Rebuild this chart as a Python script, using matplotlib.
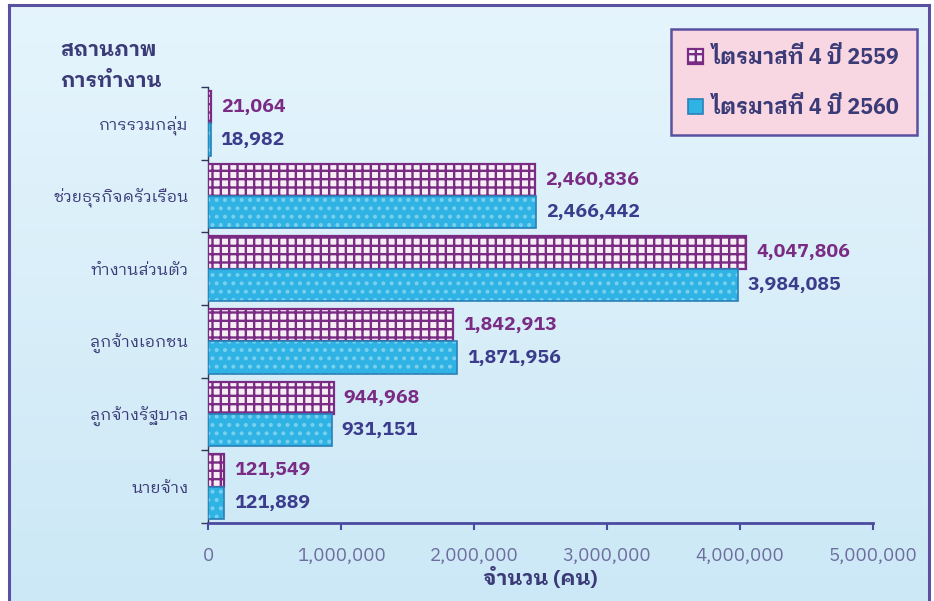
import matplotlib
matplotlib.use("Agg")
import matplotlib.pyplot as plt
import numpy as np
from matplotlib.patches import Rectangle, Patch
from matplotlib.ticker import FuncFormatter

# ---------------- data ----------------
categories = ["นายจ้าง", "ลูกจ้างรัฐบาล", "ลูกจ้างเอกชน", "ทำงานส่วนตัว",
              "ช่วยธุรกิจครัวเรือน", "การรวมกลุ่ม"]
values_2559 = [121549, 944968, 1842913, 4047806, 2460836, 21064]
values_2560 = [121889, 931151, 1871956, 3984085, 2466442, 18982]
series_names = ["ไตรมาสที่ 4 ปี 2559", "ไตรมาสที่ 4 ปี 2560"]
xticks = [0, 1000000, 2000000, 3000000, 4000000, 5000000]
y_title = "สถานภาพ\nการทำงาน"
x_title = "จำนวน (คน)"

FONT = ["IBM Plex Sans Thai Looped", "Sarabun", "Noto Sans", "DejaVu Sans"]
plt.rcParams["font.family"] = FONT
plt.rcParams["hatch.linewidth"] = 1.7

PURPLE = "#7A2C84"
LBLUE2 = "#3C3C8C"
CAT_COL = "#3B3B78"
TICK_COL = "#6E6E9E"
CYAN = "#2EB3E4"
BORDER = "#5A50A0"

W, H = 934, 601
fig = plt.figure(figsize=(W / 100, H / 100), dpi=100, facecolor="white")

# background panel with gradient
bx0, by0, bx1, by1 = 9 / W, 0.0, 929 / W, (H - 5) / H
bg = fig.add_axes([bx0, by0, bx1 - bx0, by1 - by0], zorder=-5)
grad = np.linspace(0, 1, 256).reshape(-1, 1)
top = np.array([0.90, 0.96, 0.99])
bot = np.array([0.80, 0.91, 0.965])
img = top[None, None, :] * (1 - grad[:, :, None]) + bot[None, None, :] * grad[:, :, None]
bg.imshow(img, aspect="auto", extent=[0, 1, 0, 1])
bg.set_xlim(0, 1); bg.set_ylim(0, 1)
bg.set_xticks([]); bg.set_yticks([])
for s in bg.spines.values():
    s.set_color(BORDER); s.set_linewidth(2.2)
bg.spines["bottom"].set_visible(False)

# main axes
ax = fig.add_axes([208 / W, 1 - 523 / H, 665 / W, (523 - 87) / H])
ax.patch.set_alpha(0)

y = np.arange(len(categories))
h = 0.445
# 2559 bars: light fill with purple grid hatch
ax.barh(y + h / 2, values_2559, height=h, color="#F6EEF4", edgecolor=PURPLE,
        hatch="++", linewidth=1.6, zorder=3)
# 2560 bars: cyan with light dots
ax.barh(y - h / 2, values_2560, height=h, color=CYAN, edgecolor="#78D0EE",
        hatch="..", linewidth=0, zorder=3)
ax.barh(y - h / 2, values_2560, height=h, color="none", edgecolor="#2A80B8",
        linewidth=1.2, zorder=4)

off = 10 / 133 * 1e6
for yi, v in zip(y, values_2559):
    ax.text(v + off, yi + h / 2, f"{v:,}", color=PURPLE, fontsize=14,
            fontweight="bold", va="center", ha="left", zorder=5)
for yi, v in zip(y, values_2560):
    ax.text(v + off, yi - h / 2, f"{v:,}", color=LBLUE2, fontsize=14,
            fontweight="bold", va="center", ha="left", zorder=5)

ax.set_xlim(0, 5000000)
ax.set_ylim(-0.5, len(categories) - 0.5)
ax.set_xticks(xticks)
ax.xaxis.set_major_formatter(FuncFormatter(lambda v, p: f"{int(v):,}"))
ax.tick_params(axis="x", colors="#4A4AA0", labelcolor=TICK_COL, labelsize=13.5,
               length=5, width=1.5, pad=12)
ax.set_yticks(y)
ax.set_yticklabels(categories)
ax.tick_params(axis="y", length=0, labelcolor=CAT_COL, labelsize=11.8, pad=14)
ax.set_yticks(np.arange(-0.5, len(categories), 1.0), minor=True)
ax.tick_params(axis="y", which="minor", length=5, width=1.0, color="#333355")

for s in ["top", "right"]:
    ax.spines[s].set_visible(False)
ax.spines["bottom"].set_color("#4A4AA0")
ax.spines["bottom"].set_linewidth(2.0)
ax.spines["left"].set_color("#333355")
ax.spines["left"].set_linewidth(1.0)

ax.set_xlabel(x_title, color=CAT_COL, fontsize=15, fontweight="bold", labelpad=2)

fig.text(60 / W, 1 - 41 / H, y_title, color=CAT_COL, fontsize=15,
         fontweight="bold", va="top", ha="left", linespacing=1.8)

handles = [Patch(facecolor="#F6EEF4", edgecolor=PURPLE, hatch="++", linewidth=1.6),
           Patch(facecolor=CYAN, edgecolor="#2A80B8", linewidth=1.2)]
leg = fig.legend(handles, series_names, loc="upper right",
                 bbox_to_anchor=(917 / W, 1 - 29 / H), borderaxespad=0,
                 prop={"weight": "bold", "size": 15.5, "family": FONT},
                 handlelength=0.7, handleheight=0.7, handletextpad=0.4,
                 labelspacing=1.3, borderpad=0.8, fancybox=False,
                 frameon=True, facecolor="#F8D6E2", edgecolor=BORDER, framealpha=1)
leg.get_frame().set_linewidth(1.8)
for t in leg.get_texts():
    t.set_color(CAT_COL)

fig.savefig("out.png", dpi=100, facecolor="white")
